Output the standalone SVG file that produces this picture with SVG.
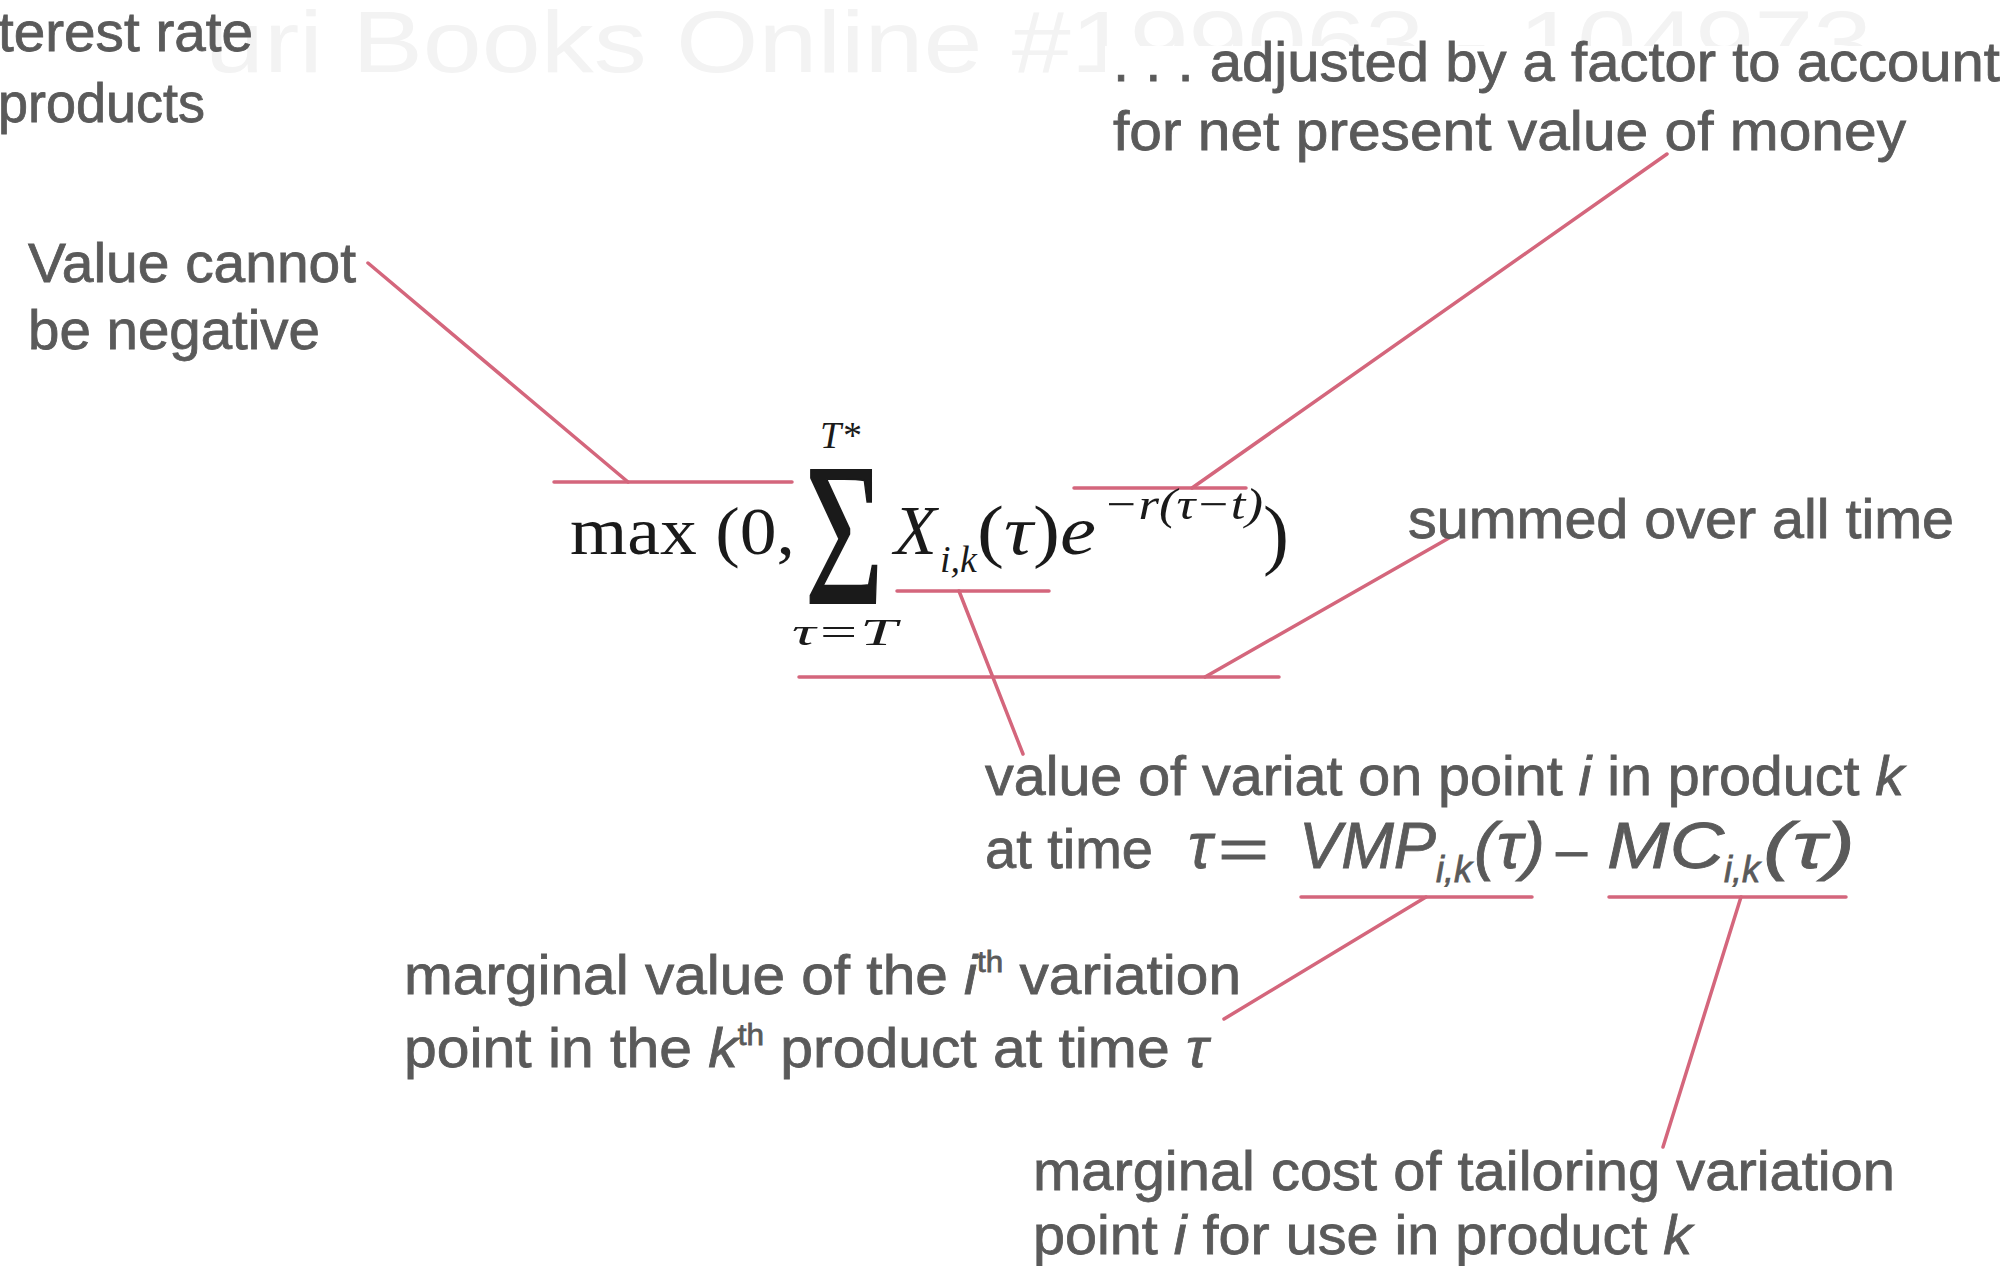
<svg xmlns="http://www.w3.org/2000/svg" width="2010" height="1266" viewBox="0 0 2010 1266">
<style>
.t{font-family:"Liberation Sans",Arial,sans-serif;font-size:56px;fill:#5a5a5a;stroke:#5a5a5a;stroke-width:0.8}
.m{font-family:"Liberation Serif","Times New Roman",serif;fill:#1a1a1a}
.mi{font-style:italic}
.f{font-family:"Liberation Sans",Arial,sans-serif;font-style:italic;fill:#5a5a5a;stroke:#5a5a5a;stroke-width:0.8}
.wm{font-family:"Liberation Sans",Arial,sans-serif;font-size:88px;fill:#f3f3f3}
.ln{stroke:#d4667c;stroke-width:3.5;fill:none;stroke-linecap:round}
</style>
<rect width="2010" height="1266" fill="#ffffff"/>
<g id="watermark">
<text class="wm" x="205" y="72" textLength="1667" lengthAdjust="spacingAndGlyphs">uri Books Online #199063 - 104973</text>
<rect x="1105" y="46" width="905" height="164" fill="#ffffff"/>
</g>
<g id="connectors">
<line class="ln" x1="554" y1="482" x2="792" y2="482"/>
<line class="ln" x1="628" y1="482" x2="368" y2="263"/>
<line class="ln" x1="1074" y1="488" x2="1246" y2="488"/>
<line class="ln" x1="1192" y1="488" x2="1667" y2="154"/>
<line class="ln" x1="897" y1="591" x2="1049" y2="591"/>
<line class="ln" x1="959" y1="591" x2="1023" y2="754"/>
<line class="ln" x1="799" y1="677" x2="1279" y2="677"/>
<line class="ln" x1="1205" y1="677" x2="1449" y2="538"/>
<line class="ln" x1="1301" y1="897" x2="1532" y2="897"/>
<line class="ln" x1="1426" y1="897" x2="1224" y2="1019"/>
<line class="ln" x1="1609" y1="897" x2="1846" y2="897"/>
<line class="ln" x1="1741" y1="897" x2="1663" y2="1147"/>
</g>
<g id="interest">
<text class="t" x="-2" y="51" textLength="255" lengthAdjust="spacingAndGlyphs">terest rate</text>
<text class="t" x="-2" y="122" textLength="207" lengthAdjust="spacingAndGlyphs">products</text>
</g>
<g id="adjusted">
<text class="t" x="1113" y="81" textLength="887" lengthAdjust="spacingAndGlyphs">. . . adjusted by a factor to account</text>
<text class="t" x="1113" y="150" textLength="793" lengthAdjust="spacingAndGlyphs">for net present value of money</text>
</g>
<g id="negative">
<text class="t" x="28" y="282" textLength="328" lengthAdjust="spacingAndGlyphs">Value cannot</text>
<text class="t" x="28" y="349" textLength="292" lengthAdjust="spacingAndGlyphs">be negative</text>
</g>
<g id="formula">
<text class="m" x="570" y="554" font-size="68" textLength="225" lengthAdjust="spacingAndGlyphs">max (0,</text>
<text class="m" transform="translate(805,603) scale(0.66,1)" x="0" y="0" font-size="204" stroke="#1a1a1a" stroke-width="2">Σ</text>
<text class="m mi" x="820" y="448" font-size="38">T*</text>
<text class="m mi" x="792" y="645" font-size="38" textLength="105" lengthAdjust="spacingAndGlyphs">τ=T</text>
<text class="m mi" x="894" y="554" font-size="70">X</text>
<text class="m mi" x="940" y="572" font-size="38">i,k</text>
<text class="m" x="977" y="554" font-size="70" textLength="119" lengthAdjust="spacingAndGlyphs">(<tspan class="mi">τ</tspan>)<tspan class="mi">e</tspan></text>
<text class="m mi" x="1103" y="519" font-size="44" textLength="160" lengthAdjust="spacingAndGlyphs">−r(τ−t)</text>
<text class="m" x="1263" y="560" font-size="78">)</text>
</g>
<g id="summed">
<text class="t" x="1408" y="538" textLength="546" lengthAdjust="spacingAndGlyphs">summed over all time</text>
</g>
<g id="value">
<text class="t" x="985" y="795" textLength="919" lengthAdjust="spacingAndGlyphs">value of variat on point <tspan font-style="italic">i</tspan> in product <tspan font-style="italic">k</tspan></text>
<text class="t" x="985" y="868" textLength="168" lengthAdjust="spacingAndGlyphs">at time</text>
<text class="f" x="1188" y="868" font-size="64">τ</text>
<text class="t" x="1218" y="868" font-size="64" textLength="51" lengthAdjust="spacingAndGlyphs">=</text>
<text class="f" x="1299" y="868" font-size="64" textLength="137" lengthAdjust="spacingAndGlyphs">VMP</text>
<text class="f" x="1436" y="882" font-size="36">i,k</text>
<text class="f" x="1474" y="868" font-size="64" textLength="71" lengthAdjust="spacingAndGlyphs">(τ)</text>
<text class="t" x="1556" y="868" font-size="64">–</text>
<text class="f" x="1607" y="868" font-size="64" textLength="117" lengthAdjust="spacingAndGlyphs">MC</text>
<text class="f" x="1724" y="882" font-size="36">i,k</text>
<text class="f" x="1763" y="868" font-size="64" textLength="92" lengthAdjust="spacingAndGlyphs">(τ)</text>
</g>
<g id="marginal-value">
<text class="t" x="404" y="994" textLength="837" lengthAdjust="spacingAndGlyphs">marginal value of the <tspan font-style="italic">i</tspan><tspan font-size="30" dy="-22">th</tspan><tspan dy="22"> variation</tspan></text>
<text class="t" x="404" y="1067" textLength="804" lengthAdjust="spacingAndGlyphs">point in the <tspan font-style="italic">k</tspan><tspan font-size="30" dy="-22">th</tspan><tspan dy="22"> product at time </tspan><tspan font-style="italic">τ</tspan></text>
</g>
<g id="marginal-cost">
<text class="t" x="1033" y="1190" textLength="862" lengthAdjust="spacingAndGlyphs">marginal cost of tailoring variation</text>
<text class="t" x="1033" y="1254" textLength="659" lengthAdjust="spacingAndGlyphs">point <tspan font-style="italic">i</tspan> for use in product <tspan font-style="italic">k</tspan></text>
</g>
</svg>
